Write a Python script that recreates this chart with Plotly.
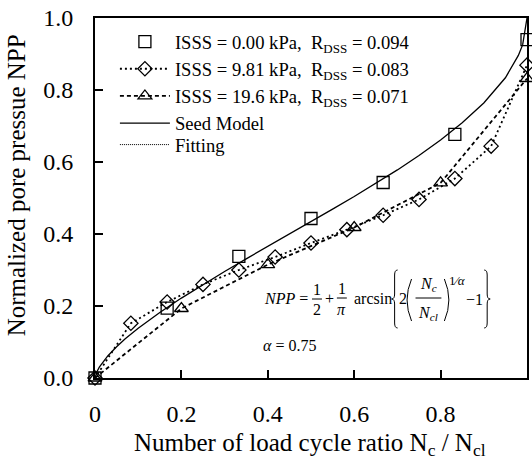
import plotly.graph_objects as go

# ---------------- data ----------------
x_sq = [0, 0.167, 0.333, 0.5, 0.667, 0.833, 1.0]
y_sq = [0, 0.194, 0.338, 0.443, 0.543, 0.677, 0.94]

x_di = [0, 0.083, 0.167, 0.25, 0.333, 0.417, 0.5, 0.583, 0.667, 0.75, 0.833, 0.917, 1.0]
y_di = [0, 0.152, 0.211, 0.26, 0.30, 0.336, 0.375, 0.412, 0.452, 0.496, 0.554, 0.644, 0.869]

x_tr = [0, 0.2, 0.4, 0.6, 0.8, 1.0]
y_tr = [0, 0.193, 0.315, 0.418, 0.542, 0.832]

x_seed = [0, 0.005, 0.01, 0.02, 0.03, 0.05, 0.07, 0.1, 0.15, 0.2, 0.25, 0.3, 0.35,
          0.4, 0.45, 0.5, 0.55, 0.6, 0.65, 0.7, 0.75, 0.8, 0.85, 0.9, 0.95, 0.98, 0.99, 1.0]
y_seed = [0, 0.019, 0.030, 0.047, 0.062, 0.087, 0.109, 0.138, 0.182, 0.222, 0.260, 0.296, 0.331,
          0.365, 0.400, 0.434, 0.469, 0.504, 0.540, 0.578, 0.618, 0.661, 0.709, 0.764, 0.834, 0.896, 0.926, 1.0]

x_ticks = [0, 0.2, 0.4, 0.6, 0.8, 1.0]
y_ticks = [0, 0.2, 0.4, 0.6, 0.8, 1.0]

names = [
    "ISSS = 0.00 kPa,  R<sub>DSS</sub> = 0.094",
    "ISSS = 9.81 kPa,  R<sub>DSS</sub> = 0.083",
    "ISSS = 19.6 kPa,  R<sub>DSS</sub> = 0.071",
    "Seed Model",
    "Fitting",
]
x_title = "Number of load cycle ratio N<sub>c</sub> / N<sub>cl</sub>"
y_title = "Normalized pore pressue NPP"

FONT = "Liberation Serif"
W, H = 532, 463
L, R, T, B = 95, 3, 18, 85
PW, PH = W - L - R, H - T - B


def px(x):
    return (x - L) / PW


def py(y):
    return (H - B - y) / PH


fig = go.Figure()

fig.add_trace(go.Scatter(x=x_seed, y=y_seed, mode="lines", name=names[3],
                         line=dict(color="black", width=1.3), legendgroup="g4",
                         legendrank=4))
fig.add_trace(go.Scatter(x=x_di, y=y_di, mode="lines+markers", name=names[1],
                         line=dict(color="black", width=1.8, dash="2px,3px"),
                         marker=dict(symbol="diamond-open", size=11, color="black",
                                     line=dict(width=1.3)),
                         cliponaxis=False, legendgroup="g2", legendrank=2))
fig.add_trace(go.Scatter(x=x_tr, y=y_tr, mode="lines+markers", name=names[2],
                         line=dict(color="black", width=1.8, dash="4px,3px"),
                         marker=dict(symbol="triangle-up-open", size=12, color="black",
                                     line=dict(width=1.3)),
                         cliponaxis=False, legendgroup="g3", legendrank=3))
fig.add_trace(go.Scatter(x=x_sq, y=y_sq, mode="markers", name=names[0],
                         marker=dict(symbol="square-open", size=12, color="black",
                                     line=dict(width=1.3)),
                         cliponaxis=False, legendgroup="g1", legendrank=1))
fig.add_trace(go.Scatter(x=[None], y=[None], mode="lines", name=names[4],
                         line=dict(color="black", width=1, dash="1px,1px"),
                         legend="legend2"))

axis_common = dict(
    range=[0, 1], showgrid=False, zeroline=False, showline=True, linewidth=2,
    linecolor="black", mirror=True, ticks="inside", ticklen=8, tickwidth=1.5,
    tickcolor="black", tickfont=dict(family=FONT, size=24, color="black"),
)

leg_common = dict(xanchor="left", yanchor="top", bgcolor="rgba(0,0,0,0)",
                  itemwidth=50)

fig.update_layout(
    width=W, height=H,
    margin=dict(l=L, r=R, t=T, b=B),
    paper_bgcolor="white", plot_bgcolor="white",
    font=dict(family=FONT, color="black"),
    xaxis=dict(**axis_common, tickvals=x_ticks, ticklabelstandoff=13),
    yaxis=dict(**axis_common, tickvals=y_ticks, tickformat=".1f", ticklabelstandoff=15),
    showlegend=True,
    legend=dict(x=px(115), y=py(23), tracegroupgap=0, traceorder="grouped",
                font=dict(family=FONT, size=18.6, color="black"), **leg_common),
    legend2=dict(x=px(115), y=py(126),
                 font=dict(family=FONT, size=18.6, color="black"), **leg_common),
)

# ---------------- titles & formula ----------------
ann = [
    dict(x=px(311), y=py(444), xref="paper", yref="paper", text=x_title,
         showarrow=False, xanchor="center", yanchor="middle",
         font=dict(family=FONT, size=25, color="black")),
    dict(x=px(16), y=py(185), xref="paper", yref="paper", text=y_title,
         showarrow=False, xanchor="center", yanchor="middle", textangle=-90,
         font=dict(family=FONT, size=25, color="black")),
]
fs = 16


def txt(x, y, s, size=fs, xanchor="center"):
    ann.append(dict(x=px(x), y=py(y), xref="paper", yref="paper", text=s,
                    showarrow=False, xanchor=xanchor, yanchor="middle",
                    font=dict(family=FONT, size=size, color="black")))


txt(263, 298, "<i>NPP</i> =", xanchor="left")
txt(318, 289, "1")
txt(318, 309, "2")
txt(331, 298, "+")
txt(343, 288, "1")
txt(343, 309, "<i>π</i>")
txt(353, 298, "arcsin", xanchor="left")
txt(404, 298, "2")
txt(430, 284, "<i>N<sub>c</sub></i>")
txt(430, 313, "<i>N<sub>cl</sub></i>")
txt(459, 280, "1⁄<i>α</i>", size=13)
txt(476, 299, "−1")
txt(262, 345, "<i>α</i> = 0.75", xanchor="left")

shapes = []
for (x0, x1, y) in [(313, 323, 299), (338, 348, 298), (417, 443, 298)]:
    shapes.append(dict(type="line", xref="paper", yref="paper",
                       x0=px(x0), x1=px(x1), y0=py(y), y1=py(y),
                       line=dict(color="black", width=1)))


def P(x, y):
    return f"{px(x):.5f},{py(y):.5f}"


def brace(xe, xs, xt, top, bot):
    mid = (top + bot) / 2
    return (f"M {P(xe, top)} Q {P(xs, top)} {P(xs, top + 5)} L {P(xs, mid - 5)} "
            f"Q {P(xs, mid)} {P(xt, mid)} Q {P(xs, mid)} {P(xs, mid + 5)} "
            f"L {P(xs, bot - 5)} Q {P(xs, bot)} {P(xe, bot)}")


paths = [
    brace(399, 396, 393, 270, 328),
    brace(486, 489, 492, 270, 328),
    f"M {P(413, 279)} Q {P(404, 300)} {P(413, 321)}",
    f"M {P(446, 279)} Q {P(455, 300)} {P(446, 321)}",
]
for p in paths:
    shapes.append(dict(type="path", xref="paper", yref="paper", path=p,
                       line=dict(color="black", width=1)))

fig.update_layout(annotations=ann, shapes=shapes)

fig.write_html("out.html")
